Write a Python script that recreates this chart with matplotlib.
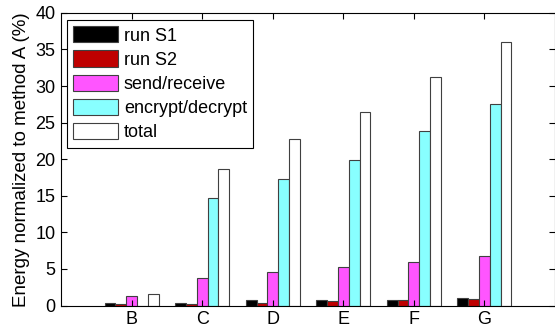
import numpy as np
import matplotlib
matplotlib.use("Agg")
import matplotlib.pyplot as plt

plt.rcParams['font.family'] = ['Liberation Sans', 'DejaVu Sans']

categories = ['B', 'C', 'D', 'E', 'F', 'G']
run_s1 = [0.35, 0.35, 0.8, 0.78, 0.82, 0.96]
run_s2 = [0.15, 0.2, 0.35, 0.55, 0.78, 0.92]
send_receive = [1.3, 3.8, 4.6, 5.3, 5.9, 6.75]
encrypt_decrypt = [0.0, 14.7, 17.3, 19.95, 23.9, 27.6]
total = [1.6, 18.7, 22.8, 26.5, 31.2, 36.0]

series = [run_s1, run_s2, send_receive, encrypt_decrypt, total]
labels = ['run S1', 'run S2', 'send/receive', 'encrypt/decrypt', 'total']
colors = ['#000000', '#bf0000', '#ff55ff', '#88ffff', '#ffffff']

fig = plt.figure(figsize=(5.55, 3.31), dpi=100)
ax = fig.add_axes([0.110, 0.077, 0.890, 0.884])

x = np.arange(1, len(categories) + 1)
w = 0.153
for i, (vals, lab, col) in enumerate(zip(series, labels, colors)):
    ax.bar(x + (i - 2) * w, vals, w, color=col, edgecolor='#404040',
           linewidth=0.8, label=lab)

ax.set_xlim(0, 7)
ax.set_ylim(0, 40)
ax.set_xticks(x)
ax.set_xticklabels(categories)
ax.set_yticks(np.arange(0, 41, 5))
ax.tick_params(direction='in', top=True, right=True, labelsize=13, length=4, pad=4)
ax.set_ylabel('Energy normalized to method A (%)', fontsize=13.5, labelpad=4)

leg = ax.legend(loc='upper left', bbox_to_anchor=(0.012, 0.976), fontsize=13,
                fancybox=False, framealpha=1, edgecolor='black',
                handlelength=2.5, handleheight=1.0, labelspacing=0.33,
                borderpad=0.35, handletextpad=0.3, borderaxespad=0)
leg.get_frame().set_linewidth(0.8)

fig.savefig('out.png', dpi=100)
